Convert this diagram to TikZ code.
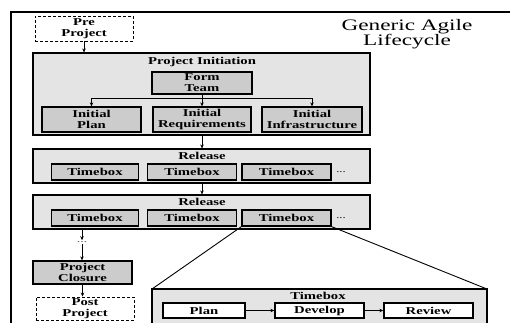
\documentclass[tikz,border=0pt]{standalone}
\usepackage{fontspec}
\setmainfont{Liberation Serif}[FakeStretch=1.4]
\newfontfamily\titlefont{Liberation Serif}[FakeStretch=1.45]
\usetikzlibrary{arrows.meta}
\tikzset{every node/.append style={align=center}}
\definecolor{phasecolor}{RGB}{228,228,228}
\definecolor{taskcolor}{RGB}{204,204,204}
\newcommand{\boxfont}{\bfseries\fontsize{10.5}{11}\selectfont}
\tikzset{
  phase/.style={draw, line width=1.2pt, fill=phasecolor, inner sep=0pt},
  task/.style={draw, line width=1.3pt, fill=taskcolor, inner sep=0pt, font=\boxfont},
  stepbox/.style={draw, line width=1.3pt, fill=white, inner sep=0pt, font=\boxfont},
  ends/.style={draw, densely dashed, line width=0.9pt, fill=white, inner sep=0pt, font=\boxfont},
  heading/.style={font=\boxfont, inner sep=0pt},
  arr/.style={-{Stealth[length=4pt,width=3.5pt]}, line width=1pt}
}

\begin{document}
\begin{tikzpicture}[x=1pt, y=-1pt]
  \clip (0,0) rectangle (510,322);
  % page frame
  \draw[line width=1.5pt] (520,12) -- (11,12) -- (11,330);
  \node[font=\titlefont\fontsize{16}{15}\selectfont] (title) at (407,34) {Generic Agile\\Lifecycle};

  % before the project
  \node[ends, minimum width=98pt, minimum height=25pt] (prepro) at (84,28.5) {Pre\\Project};

  % project initiation
  \node[phase, minimum width=337pt, minimum height=82pt] (init) at (201.5,94) {};
  \node[heading] (inittitle) at (202,62) {Project Initiation};
  \node[task, minimum width=100pt, minimum height=22pt] (formteam) at (202,83) {Form\\Team};
  \node[task, minimum width=99pt, minimum height=25pt] (iplan) at (91.5,119.5) {Initial\\Plan};
  \node[task, minimum width=98pt, minimum height=25pt] (ireq) at (202,119.5) {Initial\\Requirements};
  \node[task, minimum width=100pt, minimum height=25pt] (iinfra) at (312,119.5) {Initial\\Infrastructure};
  \coordinate (fork) at (202,98);

  % releases
  \node[phase, minimum width=337pt, minimum height=34pt] (rel1) at (201.5,166) {};
  \node[heading] (rel1title) at (202,156) {Release};
  \node[task, minimum width=87pt, minimum height=16pt] (tb11) at (95,172) {Timebox};
  \node[task, minimum width=89pt, minimum height=16pt] (tb12) at (192,172) {Timebox};
  \node[task, minimum width=89pt, minimum height=16pt] (tb13) at (286.5,172) {Timebox};
  \node[font=\fontsize{9}{9}\selectfont] (more1) at (341,172) {...};

  \node[phase, minimum width=337pt, minimum height=34pt] (rel2) at (201.5,212) {};
  \node[heading] (rel2title) at (202,202) {Release};
  \node[task, minimum width=87pt, minimum height=16pt] (tb21) at (95,218) {Timebox};
  \node[task, minimum width=89pt, minimum height=16pt] (tb22) at (192,218) {Timebox};
  \node[task, minimum width=89pt, minimum height=16pt] (tb23) at (286.5,218) {Timebox};
  \node[font=\fontsize{9}{9}\selectfont] (more2) at (341,218) {...};

  % closing
  \node[font=\fontsize{10}{10}\selectfont, text=black!60, inner sep=1pt] (vdots) at (82,242) {...};
  \node[task, minimum width=99pt, minimum height=23pt] (closure) at (82.5,272.5) {Project\\Closure};
  \node[ends, minimum width=98pt, minimum height=23pt] (postpro) at (85,308.5) {Post\\Project};

  % timebox detail
  \draw[line width=0.9pt] (tb23.south west) -- (152,289) coordinate (zoomnw);
  \draw[line width=0.9pt] (tb23.south east) -- (487,289) coordinate (zoomne);
  \node[phase, minimum width=335pt, minimum height=45pt] (tbzoom) at (319.5,311.5) {};
  \node[heading] (tbtitle) at (318,296) {Timebox};
  \node[stepbox, minimum width=82pt, minimum height=15pt] (plan) at (204,310.5) {Plan};
  \node[stepbox, minimum width=89pt, minimum height=15pt] (develop) at (319.5,310.5) {Develop};
  \node[stepbox, minimum width=89pt, minimum height=15pt] (review) at (428.5,310.5) {Review};

  % flow
  \draw[arr] (prepro.south) -- (prepro.south |- init.north);
  \draw[line width=1pt] (formteam.south) -- (fork);
  \draw[arr] (fork) -| (iplan.north);
  \draw[arr] (fork) -- (ireq.north);
  \draw[arr] (fork) -| (iinfra.north);
  \draw[arr] (init.south -| ireq) -- (rel1.north -| ireq);
  \draw[arr] (rel1.south -| ireq) -- (rel2.north -| ireq);
  \draw[arr] (rel2.south -| vdots) -- (vdots.north);
  \draw[arr] (vdots.south) -- (closure.north -| vdots);
  \draw[arr] (closure.south) -- (closure.south |- postpro.north);
  \draw[arr] (plan) -- (develop);
  \draw[arr] (develop) -- (review);
\end{tikzpicture}
\end{document}
